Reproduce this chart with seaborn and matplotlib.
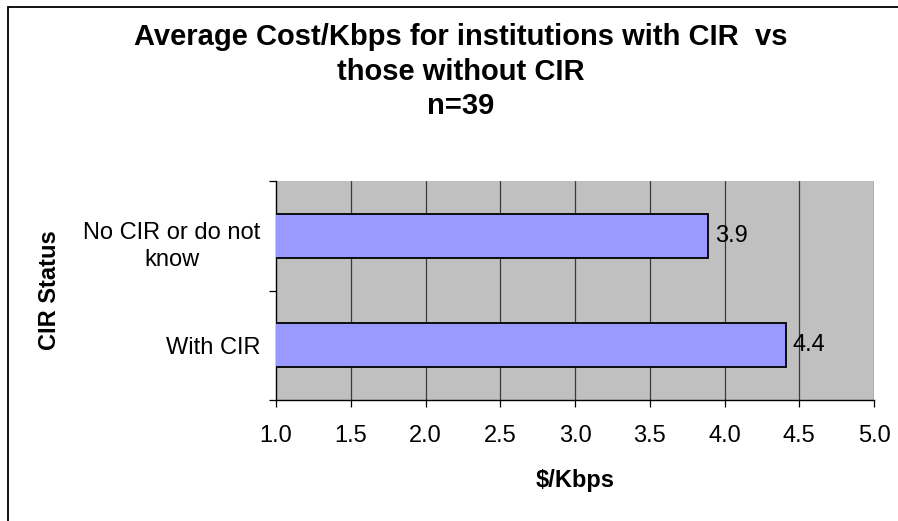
import numpy as np
import pandas as pd
import matplotlib.pyplot as plt
import matplotlib.transforms as mtransforms
import seaborn as sns
from matplotlib.patches import Rectangle

categories = ['No CIR or do not\nknow', 'With CIR']
cost = [3.89, 4.41]
labels = ['3.9', '4.4']
xticks = [1.0, 1.5, 2.0, 2.5, 3.0, 3.5, 4.0, 4.5, 5.0]

df = pd.DataFrame({'status': categories, 'cost': cost})

sns.set_style('white')
plt.rcParams['font.family'] = ['Liberation Sans', 'DejaVu Sans']
plt.rcParams['text.color'] = 'black'
plt.rcParams['axes.labelcolor'] = 'black'
plt.rcParams['xtick.color'] = 'black'
plt.rcParams['ytick.color'] = 'black'

fig = plt.figure(figsize=(8.98, 5.21), dpi=100)
ax = fig.add_axes([276 / 898, 121 / 521, 598 / 898, 219 / 521])
ax.set_facecolor('#C0C0C0')

sns.barplot(df, y='status', x='cost', orient='h', color='#9999FF', width=0.4,
            edgecolor='black', linewidth=1.3, saturation=1, ax=ax, zorder=3)

ax.set_xlim(1.0, 5.0)
ax.set_ylim(1.5, -0.5)
ax.set_xticks(xticks)
ax.set_xticklabels([f'{t:.1f}' for t in xticks], fontsize=17)
for t in xticks[1:]:
    ax.axvline(t, color='#3a3a3a', linewidth=0.9, zorder=1)

ax.set_yticks([0, 1])
ax.set_yticklabels(categories, fontsize=17, ha='right', multialignment='center',
                   linespacing=1.3)
ax.tick_params(axis='y', length=0, pad=11)
ax.set_yticks([-0.5, 0.5, 1.5], minor=True)
ax.tick_params(axis='y', which='minor', length=5, width=0.9, color='black', left=True)
ax.tick_params(axis='x', length=5, width=0.9, color='black', bottom=True, pad=13)

# wrapped label sits a little below the bar centre in the original
first = ax.get_yticklabels()[0]
first.set_transform(first.get_transform() +
                    mtransforms.ScaledTranslation(0, -6 / 100, fig.dpi_scale_trans))

for s in ['top', 'right']:
    ax.spines[s].set_visible(False)
for s in ['left', 'bottom']:
    ax.spines[s].set_color('black')
    ax.spines[s].set_linewidth(1.0)

for i, (v, lab) in enumerate(zip(cost, labels)):
    ax.text(v + 0.045, i, lab, va='center', ha='left', fontsize=17, zorder=4)

ax.set_xlabel('$/Kbps', fontsize=17, fontweight='bold', labelpad=16)
ax.set_ylabel('CIR Status', fontsize=17, fontweight='bold', labelpad=16)

fig.text(461 / 898, 1 - 71.5 / 521,
         'Average Cost/Kbps for institutions with CIR  vs\nthose without CIR\nn=39',
         ha='center', va='center', fontsize=21, fontweight='bold', linespacing=1.28)

# chart area border (left and top edges visible)
fig.patches.append(Rectangle((8 / 898, -0.1), 1.1, 1 - 7 / 521 + 0.1,
                             transform=fig.transFigure, fill=False,
                             edgecolor='black', linewidth=1.3))

fig.savefig('out.png', dpi=100)
